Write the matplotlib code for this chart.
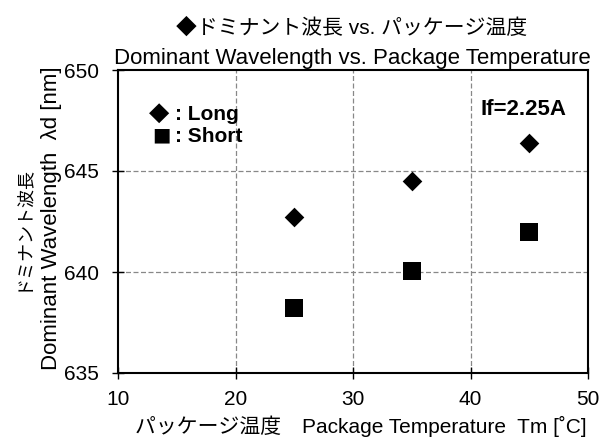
import matplotlib as mpl
import matplotlib.pyplot as plt

mpl.rcParams['axes.linewidth'] = 1.5
plt.rcParams['font.family'] = ['Liberation Sans', 'Noto Sans CJK JP', 'DejaVu Sans']
plt.rcParams['font.size'] = 15

temps = [25, 35, 45]
long_wl = [642.7, 644.5, 646.4]
short_wl = [638.2, 640.05, 642.0]

x_ticks = [10, 20, 30, 40, 50]
y_ticks = [635, 640, 645, 650]

W, H = 604, 441
fig, ax = plt.subplots(figsize=(W / 100, H / 100), dpi=100)
plt.subplots_adjust(left=118 / W, bottom=1 - 373 / H, right=588 / W, top=1 - 70 / H)

ax.scatter(temps, long_wl, marker='D', s=100, color='black', linewidths=0, zorder=3)
ax.scatter(temps, short_wl, marker='s', s=160, color='black', linewidths=0, zorder=3)

ax.set_xlim(10, 50)
ax.set_ylim(635, 650)
ax.set_xticks(x_ticks)
ax.set_yticks(y_ticks)
ax.tick_params(direction='inout', length=8, width=1.0)
ax.tick_params(axis='x', pad=8)
ax.tick_params(axis='y', pad=10)

for v in [20, 30, 40]:
    ax.axvline(v, color='#888888', linestyle=(0, (4, 2)), linewidth=0.9, zorder=1)
for v in [640, 645]:
    ax.axhline(v, color='#888888', linestyle=(0, (4, 2)), linewidth=0.9, zorder=1)

# titles
fig.text(352 / W, 1 - 34 / H, '◆ドミナント波長 vs. パッケージ温度', ha='center', va='baseline', fontsize=15)
fig.text(352 / W, 1 - 64 / H, 'Dominant Wavelength vs. Package Temperature', ha='center', va='baseline', fontsize=16)

# axis labels
fig.text(361 / W, 1 - 433 / H, 'パッケージ温度　Package Temperature  Tm [˚C]', ha='center', va='baseline')
fig.text(22 / W, 1 - 228 / H, 'ドミナント波長', rotation=90, ha='center', va='center', fontsize=13)
fig.text(52 / W, 1 - 218 / H, 'Dominant Wavelength  λd [nm]', rotation=90, ha='center', va='center', fontsize=16)

# legend written as text
ax.text(0.088, 0.860, '◆', transform=ax.transAxes, ha='center', va='center', fontsize=19, family='DejaVu Sans')
ax.text(0.0915, 0.785, '■', transform=ax.transAxes, ha='center', va='center', fontsize=14, family='DejaVu Sans')
ax.text(0.121, 0.835, ': Long', transform=ax.transAxes, fontweight='bold', va='baseline')
ax.text(0.121, 0.762, ': Short', transform=ax.transAxes, fontweight='bold', va='baseline')
ax.text(0.955, 0.851, 'If=2.25A', transform=ax.transAxes, fontweight='bold', ha='right', va='baseline', fontsize=16)

plt.savefig('out.png', dpi=100)
